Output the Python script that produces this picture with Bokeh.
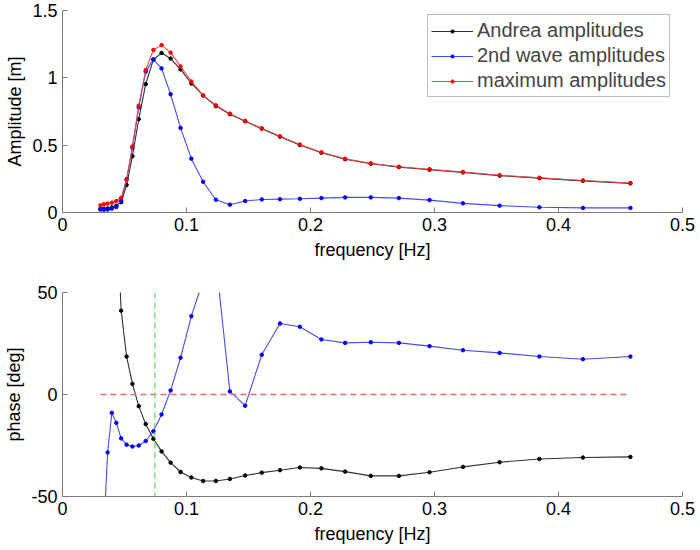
from bokeh.plotting import figure
from bokeh.layouts import column
from bokeh.models import Range1d, FixedTicker, Legend, LegendItem, Span
from bokeh.embed import file_html
from bokeh.resources import INLINE

# ---------------- data ----------------
freq = [0.0306, 0.0334, 0.0364, 0.0398, 0.0434, 0.0473, 0.0517, 0.0564,
        0.0615, 0.0671, 0.0733, 0.0799, 0.0872, 0.0952, 0.1039, 0.1134,
        0.1237, 0.1350, 0.1473, 0.1607, 0.1754, 0.1914, 0.2088, 0.2279,
        0.2486, 0.2713, 0.2960, 0.3230, 0.3525, 0.3846, 0.4197, 0.4580]

amp_andrea = [0.030, 0.028, 0.030, 0.038, 0.050, 0.077, 0.204, 0.418,
              0.693, 0.953, 1.136, 1.185, 1.143, 1.063, 0.958, 0.869,
              0.790, 0.730, 0.677, 0.622, 0.563, 0.501, 0.444, 0.396,
              0.362, 0.337, 0.318, 0.298, 0.274, 0.255, 0.235, 0.216]

amp_2nd = [0.022, 0.020, 0.022, 0.029, 0.041, 0.090, 0.248, 0.480,
           0.780, 1.046, 1.136, 1.070, 0.878, 0.628, 0.400, 0.228,
           0.095, 0.058, 0.085, 0.097, 0.099, 0.102, 0.107, 0.112,
           0.112, 0.107, 0.092, 0.068, 0.051, 0.039, 0.034, 0.034]

amp_max = [0.053, 0.061, 0.066, 0.073, 0.085, 0.109, 0.243, 0.491,
           0.793, 1.058, 1.207, 1.243, 1.187, 1.085, 0.973, 0.869,
           0.796, 0.734, 0.680, 0.625, 0.566, 0.504, 0.447, 0.399,
           0.365, 0.340, 0.321, 0.301, 0.277, 0.258, 0.238, 0.219]

phase_andrea = [260, 220, 180, 140, 95, 41.1, 18.6, 5.2,
                -5.7, -14.5, -21.7, -27.9, -33.4, -38.0, -40.7, -42.4,
                -42.4, -41.4, -39.7, -38.3, -37.1, -35.8, -36.2, -37.8,
                -39.9, -39.9, -38.1, -35.5, -33.2, -31.6, -30.9, -30.6]

phase_2nd = [-85, -65, -28.4, -9.0, -13.9, -21.5, -24.6, -25.5,
             -25.0, -22.8, -18.0, -9.8, 2.0, 18.0, 38.4, 56,
             66, 1.5, -5.5, 19.5, 34.8, 33.2, 27.0, 25.3,
             25.6, 25.3, 23.7, 21.7, 20.4, 18.6, 17.3, 18.6]

marker_freq = 0.0745

x_ticks = [0, 0.1, 0.2, 0.3, 0.4, 0.5]
x_tick_labels = ["0", "0.1", "0.2", "0.3", "0.4", "0.5"]
amp_ticks = [0, 0.5, 1, 1.5]
amp_tick_labels = ["0", "0.5", "1", "1.5"]
phase_ticks = [-50, 0, 50]
phase_tick_labels = ["-50", "0", "50"]

legend_labels = ["Andrea amplitudes", "2nd wave amplitudes", "maximum amplitudes"]

# ---------------- styling ----------------
FONT = "Liberation Sans"
AXIS_GRAY = "#7a7a7a"
C_BLACK, C_BLUE, C_RED = "#000000", "#0000ff", "#ff0000"
L_BLACK, L_BLUE, L_RED = "#303030", "#4a4ae6", "#e04a4a"


def style(p, xt, xl, yt, yl):
    p.xaxis.ticker = FixedTicker(ticks=xt)
    p.yaxis.ticker = FixedTicker(ticks=yt)
    p.xaxis.major_label_overrides = {t: l for t, l in zip(xt, xl)}
    p.yaxis.major_label_overrides = {t: l for t, l in zip(yt, yl)}
    for ax in (p.xaxis[0], p.yaxis[0]):
        ax.axis_line_color = AXIS_GRAY
        ax.major_tick_line_color = AXIS_GRAY
        ax.minor_tick_line_color = None
        ax.major_tick_in = 5
        ax.major_tick_out = 0
        ax.major_label_text_font = FONT
        ax.major_label_text_font_size = "18px"
        ax.major_label_text_color = "black"
        ax.axis_label_text_font = FONT
        ax.axis_label_text_font_size = "18px"
        ax.axis_label_text_font_style = "normal"
        ax.axis_label_text_color = "black"
        ax.major_label_standoff = 5
    p.xaxis.axis_label_standoff = 6
    p.yaxis.axis_label_standoff = 4
    p.xgrid.visible = False
    p.ygrid.visible = False
    p.outline_line_color = None
    p.background_fill_color = "white"
    p.border_fill_color = "white"


# ---------------- top: amplitudes ----------------
p1 = figure(width=700, height=265, output_backend="svg", toolbar_location=None,
            x_range=Range1d(0, 0.5), y_range=Range1d(0, 1.5),
            min_border_left=62, min_border_right=18, min_border_top=10,
            min_border_bottom=53)
style(p1, x_ticks, x_tick_labels, amp_ticks, amp_tick_labels)
p1.xaxis.axis_label = "frequency [Hz]"
p1.yaxis.axis_label = "Amplitude [m]"

items = []
for ys, lc, mc, lab in [(amp_andrea, L_BLACK, C_BLACK, legend_labels[0]),
                        (amp_2nd, L_BLUE, C_BLUE, legend_labels[1]),
                        (amp_max, L_RED, C_RED, legend_labels[2])]:
    r1 = p1.line(freq, ys, line_color=lc, line_width=1.1)
    r2 = p1.scatter(freq, ys, marker="circle", size=3.5, fill_color=mc,
                    line_color=mc)
    items.append(LegendItem(label=lab, renderers=[r1, r2]))

legend = Legend(items=items, location=(365, 115), margin=0,
                label_text_font=FONT, label_text_font_size="20px",
                label_standoff=4, glyph_width=42, glyph_height=8,
                label_height=25, spacing=0, padding=3,
                border_line_color=AXIS_GRAY, border_line_width=1,
                background_fill_color="white", background_fill_alpha=1)
p1.add_layout(legend)

# ---------------- bottom: phase ----------------
p2 = figure(width=700, height=284, output_backend="svg", toolbar_location=None,
            x_range=Range1d(0, 0.5), y_range=Range1d(-50, 50),
            min_border_left=62, min_border_right=18, min_border_top=27,
            min_border_bottom=53)
style(p2, x_ticks, x_tick_labels, phase_ticks, phase_tick_labels)
p2.xaxis.axis_label = "frequency [Hz]"
p2.yaxis.axis_label = "phase [deg]"

p2.line(freq, phase_andrea, line_color=L_BLACK, line_width=1.1)
p2.scatter(freq, phase_andrea, marker="circle", size=3.5, fill_color=C_BLACK,
           line_color=C_BLACK)
p2.line(freq, phase_2nd, line_color=L_BLUE, line_width=1.1)
p2.scatter(freq, phase_2nd, marker="circle", size=3.5, fill_color=C_BLUE,
           line_color=C_BLUE)
p2.line([freq[0], freq[-1]], [0, 0], line_color="#e86a6a", line_width=1.3,
        line_dash="6 4")
p2.add_layout(Span(location=marker_freq, dimension="height",
                   line_color="#6ad96a", line_width=1.3, line_dash="6 4"))

layout = column(p1, p2, spacing=0)
open("out.html", "w").write(file_html(layout, INLINE))
